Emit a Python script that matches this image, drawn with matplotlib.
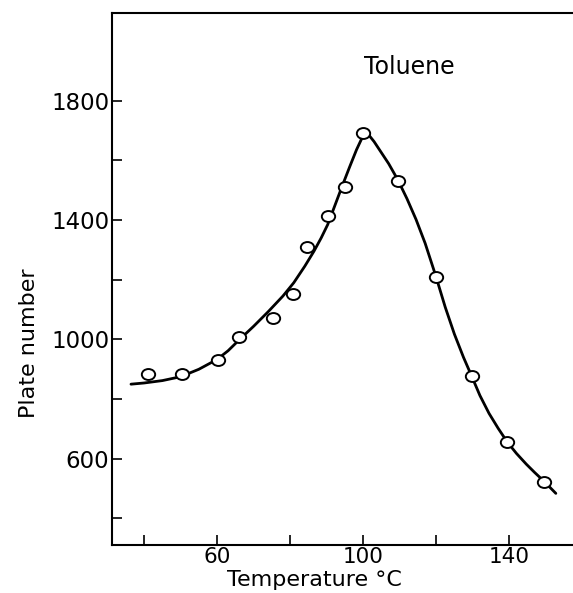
import matplotlib
matplotlib.use("Agg")
import matplotlib.pyplot as plt
from matplotlib.path import Path
from matplotlib.transforms import Affine2D
from matplotlib.ticker import FixedLocator

# measured points (open circles)
temp_points = [41, 50.5, 60.3, 66, 75.4, 80.7, 84.7, 90.5, 95, 100.1, 109.5, 119.9, 129.7, 139.5, 149.6]
plate_points = [884, 884, 931, 1009, 1073, 1151, 1309, 1414, 1512, 1691, 1531, 1210, 877, 656, 521]

# hand-drawn smooth curve
curve_temp = [36.4, 40, 45, 50, 55, 60, 63, 66, 70, 74, 78, 81, 84, 86.5, 88.5,
              90.3, 92.3, 94.3, 96.3, 98.2, 99.5, 100.5, 101.5, 103, 105, 107,
              109.5, 112, 114.5, 117, 119.9, 122.5, 125, 127.5, 129.7, 132, 134.5,
              137, 139.5, 142, 144.7, 147, 149.6, 152.8]
curve_plate = [850, 854, 862, 875, 900, 933, 962, 998, 1044, 1093, 1145, 1190, 1245,
               1295, 1340, 1385, 1450, 1515, 1578, 1636, 1670, 1688, 1686, 1663,
               1626, 1589, 1535, 1472, 1402, 1322, 1213, 1108, 1018, 940, 878, 812,
               752, 702, 656, 618, 582, 554, 524, 484]

x_major = [60, 100, 140]
x_minor = [40, 80, 120]
y_major = [600, 1000, 1400, 1800]
y_minor = [400, 800, 1200, 1600]

fig = plt.figure(figsize=(5.73, 5.93), dpi=100)
ax = fig.add_axes([112 / 573, 48.3 / 593, 1 - 112 / 573, (544.7 - 13) / 593])

ax.plot(curve_temp, curve_plate, color="black", lw=2.0, solid_capstyle="round",
        solid_joinstyle="round", zorder=2)

ellipse = Path.unit_circle().transformed(Affine2D().scale(1.0, 0.82))
ax.plot(temp_points, plate_points, linestyle="none", marker=ellipse, ms=9.6,
        mfc="white", mec="black", mew=1.4, zorder=3)

ax.set_xlim(31.2, 157.5)
ax.set_ylim(312, 2094)

ax.xaxis.set_major_locator(FixedLocator(x_major))
ax.xaxis.set_minor_locator(FixedLocator(x_minor))
ax.yaxis.set_major_locator(FixedLocator(y_major))
ax.yaxis.set_minor_locator(FixedLocator(y_minor))

ax.tick_params(which="both", direction="in", length=7, width=1.2)
ax.tick_params(axis="y", which="both", left=True, pad=2, labelsize=16.5)
ax.tick_params(axis="x", which="both", bottom=True, pad=2, labelsize=15.5)

ax.spines["right"].set_visible(False)
for side in ["left", "top", "bottom"]:
    ax.spines[side].set_linewidth(1.5)

ax.set_xlabel("Temperature °C", fontsize=16, labelpad=0)
ax.xaxis.set_label_coords(0.44, -0.047)
ax.set_ylabel("Plate number", fontsize=16)
ax.yaxis.set_label_coords(-0.158, 0.379)

ax.text(112.6, 1913, "Toluene", fontsize=17, ha="center", va="center")

fig.savefig("out.png", dpi=100)
